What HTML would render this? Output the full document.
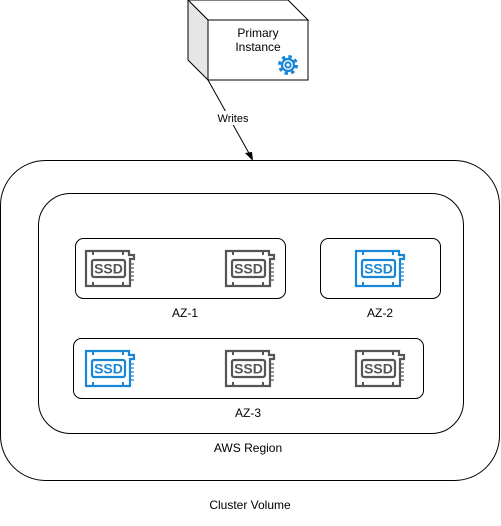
<!DOCTYPE html>
<html><head><style>
html,body{margin:0;padding:0;background:#fff;}
body{width:501px;height:521px;overflow:hidden;}
svg text{font-family:"Liberation Sans",Arial,sans-serif;font-size:12px;fill:#000;}
</style></head><body>
<svg width="501" height="521" viewBox="0 0 501 521" xmlns="http://www.w3.org/2000/svg">
<defs>
<g id="ssd">
  <path d="M1 1 H44 V5 H49 V9 H45 V36 H1 Z" fill="none" stroke="currentColor" stroke-width="2.2"/>
  <rect x="7" y="10" width="33" height="17" rx="2" fill="none" stroke="currentColor" stroke-width="2.2"/>
  <line x1="8" y1="1" x2="8" y2="5" stroke="currentColor" stroke-width="2"/>
  <line x1="38" y1="1" x2="38" y2="5" stroke="currentColor" stroke-width="2"/>
  <line x1="8" y1="32" x2="8" y2="36" stroke="currentColor" stroke-width="2"/>
  <line x1="38" y1="32" x2="38" y2="36" stroke="currentColor" stroke-width="2"/>
  <path d="M45 14 H49 M45 18 H49 M45 22 H49 M45 26 H49 M45 30 H49" stroke="currentColor" stroke-width="1.2"/>
  <text x="23.5" y="23.5" text-anchor="middle" style="font-size:14px;font-weight:bold;fill:currentColor">SSD</text>
</g>
</defs>
<!-- cube -->
<polygon points="188,0 288,0 308,20 208,20" fill="#fff" stroke="#000"/>
<polygon points="188,0 208,20 208,80 188,60" fill="#e6e6e6" stroke="#000"/>
<rect x="208" y="20" width="100" height="60" fill="#fff" stroke="#000"/>
<text x="258" y="37" text-anchor="middle">Primary</text>
<text x="258" y="51" text-anchor="middle">Instance</text>
<g transform="translate(288,65)" fill="none" stroke="#1a86d6">
  <circle r="8.5" stroke-width="3" stroke-dasharray="3.4 3.3"/>
  <circle r="6" stroke-width="2.2"/>
  <circle r="2.6" stroke-width="2"/>
</g>
<!-- connector -->
<line x1="208" y1="80" x2="250" y2="155" stroke="#000"/>
<polygon points="253,161 245,153 252,152" fill="#000"/>
<rect x="214" y="111" width="38" height="14" fill="#fff"/>
<text x="233" y="122" text-anchor="middle" style="font-size:11px">Writes</text>
<!-- containers -->
<rect x="0.5" y="160.5" width="499" height="320" rx="45" fill="none" stroke="#000"/>
<rect x="38.5" y="193.5" width="425" height="240" rx="32" fill="none" stroke="#000"/>
<rect x="75.5" y="238.5" width="210" height="60" rx="8" fill="none" stroke="#000"/>
<rect x="320.5" y="238.5" width="120" height="60" rx="8" fill="none" stroke="#000"/>
<rect x="73.5" y="338.5" width="350" height="60" rx="8" fill="none" stroke="#000"/>
<use href="#ssd" x="85" y="250" style="color:#555"/>
<use href="#ssd" x="225" y="250" style="color:#555"/>
<use href="#ssd" x="355" y="250" style="color:#1a86d6"/>
<use href="#ssd" x="85" y="350" style="color:#1a86d6"/>
<use href="#ssd" x="225" y="350" style="color:#555"/>
<use href="#ssd" x="355" y="350" style="color:#555"/>
<text x="185" y="317" text-anchor="middle">AZ-1</text>
<text x="380" y="317" text-anchor="middle">AZ-2</text>
<text x="248" y="417" text-anchor="middle">AZ-3</text>
<text x="248" y="452" text-anchor="middle">AWS Region</text>
<text x="250" y="509" text-anchor="middle">Cluster Volume</text>
</svg>
</body></html>
